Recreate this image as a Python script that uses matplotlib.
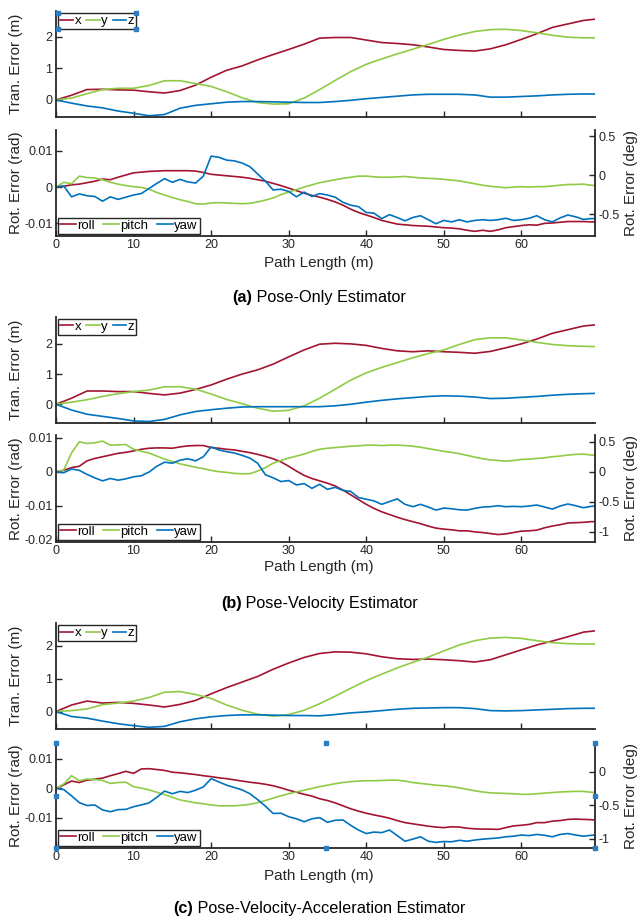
import numpy as np
import matplotlib
matplotlib.use('Agg')
import matplotlib.pyplot as plt
from matplotlib.lines import Line2D
from matplotlib.ticker import FuncFormatter

plt.rcParams['font.family'] = ['Liberation Sans', 'DejaVu Sans']
plt.rcParams['axes.unicode_minus'] = False

# ---------------- data ----------------
path_t = np.r_[np.arange(0, 69, 2), 69.5]      # translation samples (m)
path_r = np.r_[np.arange(0, 70), 69.5]         # rotation samples (m)

# (a) Pose-Only
ta_x = [0, 0.15, 0.33, 0.34, 0.32, 0.31, 0.26, 0.22, 0.30, 0.47, 0.72, 0.94, 1.08, 1.27, 1.44, 1.60, 1.77, 1.96,
        1.98, 1.98, 1.90, 1.82, 1.79, 1.75, 1.68, 1.60, 1.57, 1.55, 1.62, 1.75, 1.92, 2.10, 2.30, 2.41, 2.52, 2.56]
ta_y = [0, 0.06, 0.20, 0.33, 0.37, 0.37, 0.46, 0.61, 0.61, 0.52, 0.43, 0.26, 0.07, -0.08, -0.13, -0.12, 0.06, 0.33,
        0.62, 0.90, 1.13, 1.30, 1.46, 1.61, 1.76, 1.92, 2.06, 2.17, 2.23, 2.24, 2.20, 2.13, 2.05, 1.99, 1.97, 1.97]
ta_z = [0, -0.10, -0.19, -0.25, -0.35, -0.42, -0.50, -0.46, -0.26, -0.17, -0.12, -0.07, -0.05, -0.05, -0.06, -0.07, -0.08, -0.08,
        -0.05, -0.01, 0.04, 0.08, 0.12, 0.16, 0.18, 0.18, 0.18, 0.16, 0.09, 0.09, 0.11, 0.13, 0.16, 0.18, 0.19, 0.19]
ra_roll = [0, 0.2, 0.6, 0.8, 1.2, 1.6, 2.2, 2.0, 2.7, 3.3,
           3.9, 4.1, 4.3, 4.4, 4.5, 4.5, 4.5, 4.5, 4.4, 4.0,
           3.5, 3.3, 3.1, 2.9, 2.7, 2.4, 2.0, 1.6, 1.0, 0.4,
           -0.3, -1.0, -1.7, -2.3, -2.8, -3.4, -4.1, -5.0, -6.1, -7.0,
           -7.7, -8.4, -9.2, -9.7, -10.2, -10.4, -10.6, -10.7, -10.8, -11.0,
           -11.2, -11.3, -11.5, -11.9, -12.2, -11.9, -12.2, -11.8, -11.2, -10.9,
           -10.6, -10.4, -10.5, -10.0, -9.9, -9.7, -9.5, -9.5, -9.5, -9.6, -9.6]
ra_pitch = [0, 1.3, 0.9, 3.0, 2.6, 2.5, 2.0, 1.3, 0.8, 0.4,
            0.1, -0.1, -0.6, -1.5, -2.2, -2.9, -3.5, -4.0, -4.6, -4.7,
            -4.4, -4.3, -4.4, -4.5, -4.6, -4.5, -4.1, -3.6, -3.0, -2.1,
            -1.4, -0.7, 0.0, 0.6, 1.2, 1.6, 2.0, 2.4, 2.7, 3.0,
            3.0, 2.8, 2.7, 2.7, 2.8, 2.9, 2.7, 2.5, 2.4, 2.3,
            2.1, 1.9, 1.7, 1.3, 0.9, 0.5, 0.2, 0.0, -0.2, 0.0,
            0.1, 0.0, 0.1, 0.1, 0.3, 0.5, 0.7, 0.7, 0.8, 0.5, 0.4]
ra_yaw = [0, 0.3, -2.7, -1.9, -2.4, -2.6, -3.9, -2.7, -3.4, -2.8,
          -2.2, -1.8, -0.4, 1.0, 2.3, 1.3, 2.1, 1.4, 1.1, 3.0,
          8.5, 8.2, 7.4, 7.2, 6.6, 5.6, 3.6, 1.6, -0.8, -0.6,
          -1.2, -2.7, -1.4, -2.6, -1.8, -2.2, -2.8, -4.2, -5.0, -5.4,
          -7.0, -7.2, -8.7, -7.6, -8.4, -9.3, -8.4, -7.9, -9.0, -10.1,
          -9.2, -9.6, -9.0, -9.6, -9.2, -9.0, -9.2, -9.0, -8.6, -9.2,
          -9.0, -8.6, -7.9, -9.0, -9.6, -8.5, -7.7, -8.2, -8.9, -8.7, -8.7]

# (b) Pose-Velocity
tb_x = [0, 0.20, 0.44, 0.44, 0.42, 0.42, 0.36, 0.31, 0.37, 0.49, 0.64, 0.83, 1.00, 1.14, 1.33, 1.57, 1.80, 1.99,
        2.02, 2.00, 1.95, 1.85, 1.77, 1.74, 1.77, 1.74, 1.72, 1.69, 1.75, 1.87, 2.00, 2.16, 2.35, 2.47, 2.59, 2.63]
tb_y = [0, 0.07, 0.15, 0.26, 0.35, 0.42, 0.47, 0.58, 0.58, 0.50, 0.34, 0.16, 0.02, -0.13, -0.23, -0.20, -0.05, 0.20,
        0.50, 0.80, 1.04, 1.22, 1.38, 1.54, 1.68, 1.80, 1.98, 2.14, 2.20, 2.20, 2.13, 2.05, 1.98, 1.94, 1.92, 1.91]
tb_z = [0, -0.19, -0.33, -0.40, -0.47, -0.55, -0.57, -0.50, -0.35, -0.24, -0.18, -0.13, -0.09, -0.08, -0.08, -0.08, -0.08, -0.08,
        -0.05, 0.00, 0.07, 0.13, 0.18, 0.22, 0.26, 0.28, 0.27, 0.24, 0.19, 0.20, 0.23, 0.26, 0.30, 0.33, 0.35, 0.36]
rb_roll = [0, 0.4, 1.2, 1.6, 3.2, 3.9, 4.4, 4.9, 5.4, 5.7,
           6.1, 6.6, 6.9, 7.0, 7.0, 6.9, 7.3, 7.6, 7.7, 7.7,
           7.1, 6.9, 6.6, 6.4, 6.0, 5.6, 5.1, 4.5, 3.8, 2.9,
           1.6, 0.2, -1.1, -2.0, -2.7, -3.4, -4.2, -5.4, -6.8, -8.2,
           -9.6, -10.8, -11.8, -12.6, -13.4, -14.1, -14.7, -15.3, -16.0, -16.6,
           -16.9, -17.1, -17.4, -17.4, -17.7, -17.9, -18.2, -18.5, -18.3, -17.9,
           -17.5, -17.4, -17.2, -16.5, -16.0, -15.6, -15.1, -15.0, -14.9, -14.7, -14.7]
rb_pitch = [0, 0.5, 5.5, 8.8, 8.3, 8.5, 9.0, 7.8, 7.9, 8.0,
            6.6, 6.0, 5.5, 4.6, 3.7, 3.0, 2.3, 1.8, 1.3, 0.9,
            0.4, 0.0, -0.2, -0.5, -0.6, -0.6, 0.2, 1.2, 2.5, 3.3,
            4.0, 4.6, 5.2, 6.0, 6.6, 6.9, 7.1, 7.3, 7.5, 7.6,
            7.8, 7.8, 7.7, 7.8, 7.8, 7.7, 7.5, 7.2, 6.8, 6.4,
            6.0, 5.7, 5.3, 4.8, 4.3, 3.8, 3.5, 3.3, 3.1, 3.3,
            3.6, 3.7, 3.9, 4.1, 4.4, 4.6, 4.9, 5.1, 5.2, 4.9, 4.9]
rb_yaw = [0, -0.3, 0.8, 0.4, -0.8, -1.8, -2.7, -2.0, -2.5, -2.1,
          -1.5, -1.2, -0.1, 1.6, 2.8, 2.5, 3.4, 3.8, 3.2, 4.4,
          7.3, 6.4, 5.9, 5.5, 4.8, 4.0, 2.5, -0.9, -1.8, -2.9,
          -2.6, -3.9, -3.5, -4.9, -3.7, -5.2, -4.6, -5.5, -5.8, -7.6,
          -8.1, -8.6, -9.6, -8.8, -8.0, -9.6, -10.3, -9.6, -10.4, -11.3,
          -10.7, -10.9, -11.2, -11.3, -10.8, -10.4, -10.3, -10.0, -10.3, -10.2,
          -10.3, -10.1, -9.8, -10.4, -11.0, -10.1, -9.5, -10.0, -10.6, -10.2, -10.1]

# (c) Pose-Velocity-Acceleration
tc_x = [0, 0.20, 0.32, 0.26, 0.28, 0.25, 0.20, 0.14, 0.22, 0.34, 0.54, 0.73, 0.90, 1.07, 1.29, 1.48, 1.65, 1.77,
        1.82, 1.81, 1.76, 1.67, 1.61, 1.59, 1.60, 1.58, 1.55, 1.51, 1.58, 1.73, 1.88, 2.03, 2.15, 2.28, 2.42, 2.46]
tc_y = [0, 0.03, 0.08, 0.21, 0.26, 0.32, 0.43, 0.59, 0.61, 0.52, 0.40, 0.20, 0.04, -0.08, -0.14, -0.09, 0.04, 0.24,
        0.47, 0.71, 0.94, 1.14, 1.33, 1.50, 1.66, 1.85, 2.03, 2.16, 2.24, 2.26, 2.23, 2.16, 2.10, 2.07, 2.06, 2.06]
tc_z = [0, -0.15, -0.20, -0.29, -0.37, -0.43, -0.48, -0.45, -0.31, -0.22, -0.16, -0.12, -0.10, -0.10, -0.11, -0.12, -0.12, -0.13,
        -0.09, -0.04, -0.01, 0.03, 0.07, 0.10, 0.11, 0.12, 0.12, 0.09, 0.03, 0.02, 0.03, 0.05, 0.07, 0.09, 0.10, 0.10]
rc_roll = [0, 1.2, 2.5, 2.0, 2.8, 3.1, 3.5, 4.3, 5.0, 5.8,
           5.1, 6.6, 6.7, 6.4, 6.1, 5.5, 5.3, 5.0, 4.7, 4.3,
           4.0, 3.6, 3.3, 2.9, 2.5, 2.1, 1.8, 1.4, 0.9, 0.2,
           -0.6, -1.3, -2.0, -2.6, -3.5, -4.1, -4.9, -5.9, -6.9, -7.7,
           -8.4, -9.0, -9.5, -10.1, -10.9, -11.6, -12.0, -12.4, -12.8, -13.1,
           -13.3, -13.0, -13.1, -13.5, -13.7, -13.8, -13.8, -13.9, -13.3, -12.7,
           -12.5, -12.2, -11.6, -11.6, -11.1, -10.9, -10.5, -10.4, -10.5, -10.6, -10.7]
rc_pitch = [0, 1.5, 4.3, 2.6, 3.2, 3.0, 2.7, 1.7, 2.0, 2.1,
            0.6, 0.1, -0.5, -1.3, -2.1, -3.0, -3.9, -4.4, -4.9, -5.2,
            -5.6, -5.9, -5.9, -5.9, -5.7, -5.4, -4.8, -4.1, -3.3, -2.5,
            -1.8, -1.2, -0.6, 0.0, 0.6, 1.1, 1.6, 2.0, 2.3, 2.5,
            2.6, 2.6, 2.7, 2.8, 2.8, 2.5, 2.0, 1.7, 1.4, 1.1,
            0.9, 0.6, 0.2, -0.3, -0.8, -1.2, -1.5, -1.6, -1.7, -1.8,
            -2.0, -2.0, -1.8, -1.6, -1.4, -1.2, -1.1, -1.0, -1.0, -1.3, -1.4]
rc_yaw = [0, -0.4, -2.5, -4.8, -5.8, -5.6, -7.3, -7.9, -7.2, -7.1,
          -6.2, -5.6, -4.9, -3.0, -0.9, -1.8, -1.0, -1.4, -0.6, 0.5,
          3.3, 2.2, 1.1, 0.3, -0.5, -1.8, -3.8, -6.0, -8.5, -8.4,
          -9.6, -10.3, -11.3, -10.3, -9.9, -11.5, -10.8, -10.7, -12.5, -14.1,
          -15.3, -14.8, -15.0, -14.1, -16.0, -17.9, -17.2, -16.4, -17.9, -18.3,
          -18.0, -18.1, -17.6, -17.9, -17.5, -17.2, -17.0, -16.8, -16.4, -16.2,
          -15.8, -16.0, -15.6, -15.9, -16.4, -15.6, -15.3, -15.8, -16.2, -15.9, -15.8]

trans_labels = ['x', 'y', 'z']
rot_labels = ['roll', 'pitch', 'yaw']
captions = [('(a)', 'Pose-Only Estimator'),
            ('(b)', 'Pose-Velocity Estimator'),
            ('(c)', 'Pose-Velocity-Acceleration Estimator')]
x_ticks = [0, 10, 20, 30, 40, 50, 60]
trans_ticks = [0, 1, 2]
rad_ticks = [[-0.01, 0, 0.01], [-0.02, -0.01, 0, 0.01], [-0.01, 0, 0.01]]
deg_ticks = [[-0.5, 0, 0.5], [-1, -0.5, 0, 0.5], [-1, -0.5, 0]]

# ---------------- style ----------------
C_RED, C_GRN, C_BLU = '#A2142F', '#8FCB45', '#0072BD'
COLORS = [C_RED, C_GRN, C_BLU]
SP = '#262626'
HANDLE = '#2E7CC4'
TICK_FS = 9
LABEL_FS = 11
LEG_FS = 9.5
CAP_FS = 11.7
W, H = 639, 922
fig = plt.figure(figsize=(W / 100, H / 100), dpi=100)


def fax(l, t, r, b):
    return fig.add_axes([l / W, 1 - b / H, (r - l) / W, (b - t) / H])


def style(ax, right=False):
    ax.patch.set_visible(False)
    ax.spines['top'].set_visible(False)
    ax.spines['right'].set_visible(right)
    for s in ax.spines.values():
        s.set_color(SP)
        s.set_linewidth(1.3)
    ax.tick_params(direction='in', length=4.5, width=1.0, colors=SP, labelsize=TICK_FS, pad=2.5)
    ax.set_xlim(0, 69.5)
    ax.set_xticks(x_ticks)


def make_legend(ax, loc, hl, cs):
    lg = ax.legend(loc=loc, ncol=3, frameon=True, fancybox=False, edgecolor=SP,
                   fontsize=LEG_FS, handlelength=hl, handletextpad=0.1, columnspacing=cs,
                   borderpad=0.15, borderaxespad=0.15, framealpha=1)
    lg.get_frame().set_linewidth(1.0)
    lg.set_zorder(10)
    return lg


fmt = FuncFormatter(lambda v, p: '%g' % v)

layout = [  # (top axes px box, rot axes px box)
    ((56, 11, 595, 116.7), (56, 130, 595, 235.7)),
    ((56, 316.7, 595, 422.7), (56, 435, 595, 541.7)),
    ((56, 623.3, 595, 729.3), (56, 743.3, 595, 847.7)),
]
top_ylim = [(-0.53, 2.82), (-0.61, 2.90), (-0.54, 2.69)]
rad_ylim = [(-0.0134, 0.0157), (-0.0206, 0.0108), (-0.0201, 0.0153)]
deg_ylim = [(-0.774, 0.577), (-1.167, 0.611), (-1.13, 0.42)]
xlabel_y = [263, 567.5, 876]
caption_y = [297, 603, 908]

trans_sets = [(ta_x, ta_y, ta_z), (tb_x, tb_y, tb_z), (tc_x, tc_y, tc_z)]
rot_sets = [(ra_roll, ra_pitch, ra_yaw), (rb_roll, rb_pitch, rb_yaw), (rc_roll, rc_pitch, rc_yaw)]

legends = []
rot_axes = []
for i in range(3):
    tbox, rbox = layout[i]
    axt = fax(*tbox)
    style(axt)
    for vals, c, lab in zip(trans_sets[i], COLORS, trans_labels):
        axt.plot(path_t, vals, color=c, lw=1.2, label=lab)
    axt.set_ylim(*top_ylim[i])
    axt.set_yticks(trans_ticks)
    axt.yaxis.set_major_formatter(fmt)
    axt.tick_params(labelbottom=False)
    legends.append(make_legend(axt, 'upper left', 1.0, 0.4))

    axr = fax(*rbox)
    style(axr)
    for vals, c, lab in zip(rot_sets[i], COLORS, rot_labels):
        axr.plot(path_r, np.asarray(vals) * 1e-3, color=c, lw=1.2, label=lab)
    axr.set_ylim(*rad_ylim[i])
    axr.set_yticks(rad_ticks[i])
    axr.yaxis.set_major_formatter(fmt)
    axr.xaxis.set_major_formatter(fmt)
    make_legend(axr, 'lower left', 1.2, 0.65)

    ax2 = axr.twinx()
    ax2.patch.set_visible(False)
    for s in ['top', 'left', 'bottom']:
        ax2.spines[s].set_visible(False)
    ax2.spines['right'].set_color(SP)
    ax2.spines['right'].set_linewidth(1.3)
    ax2.set_ylim(*deg_ylim[i])
    ax2.set_yticks(deg_ticks[i])
    ax2.yaxis.set_major_formatter(fmt)
    ax2.tick_params(direction='in', length=4.5, width=1.0, colors=SP, labelsize=TICK_FS, pad=2.5)
    rot_axes.append(axr)

    # axis labels
    yc_t = 1 - (tbox[1] + tbox[3]) / 2 / H
    yc_r = 1 - (rbox[1] + rbox[3]) / 2 / H
    fig.text(16 / W, yc_t, 'Tran. Error (m)', rotation=90, ha='center', va='center', fontsize=LABEL_FS, color=SP)
    fig.text(16 / W, yc_r, 'Rot. Error (rad)', rotation=90, ha='center', va='center', fontsize=LABEL_FS, color=SP)
    fig.text(631 / W, yc_r, 'Rot. Error (deg)', rotation=90, ha='center', va='center', fontsize=LABEL_FS, color=SP)
    fig.text(318.5 / W, 1 - xlabel_y[i] / H, 'Path Length (m)', ha='center', va='center', fontsize=LABEL_FS, color=SP)

# captions with bold tag
renderer = fig.canvas.get_renderer()
for (tag, rest), ypx in zip(captions, caption_y):
    y = 1 - ypx / H
    t1 = fig.text(0, y, tag, weight='bold', fontsize=CAP_FS, va='center', color='black')
    t2 = fig.text(0, y, '\u00a0' + rest, fontsize=CAP_FS, va='center', color='black')
    w1 = t1.get_window_extent(renderer).width
    w2 = t2.get_window_extent(renderer).width
    x0 = W / 2 - (w1 + w2) / 2
    t1.set_x(x0 / W)
    t2.set_x((x0 + w1) / W)

# selection handles (as in the source figure)
fig.canvas.draw()
bb = legends[0].get_window_extent(renderer)
fx = [bb.x0 / W, bb.x1 / W, bb.x1 / W, bb.x0 / W]
fy = [bb.y0 / H, bb.y0 / H, bb.y1 / H, bb.y1 / H]
fig.add_artist(Line2D(fx, fy, transform=fig.transFigure, ls='none', marker='s', ms=2.6,
                      color=HANDLE, zorder=20))
hx = [0, 0.5, 1, 0, 1, 0, 0.5, 1]
hy = [0, 0, 0, 0.5, 0.5, 1, 1, 1]
fig.add_artist(Line2D(hx, hy, transform=rot_axes[2].transAxes, ls='none', marker='s', ms=2.6,
                      color=HANDLE, zorder=20, clip_on=False))

fig.savefig('out.png', dpi=100)
